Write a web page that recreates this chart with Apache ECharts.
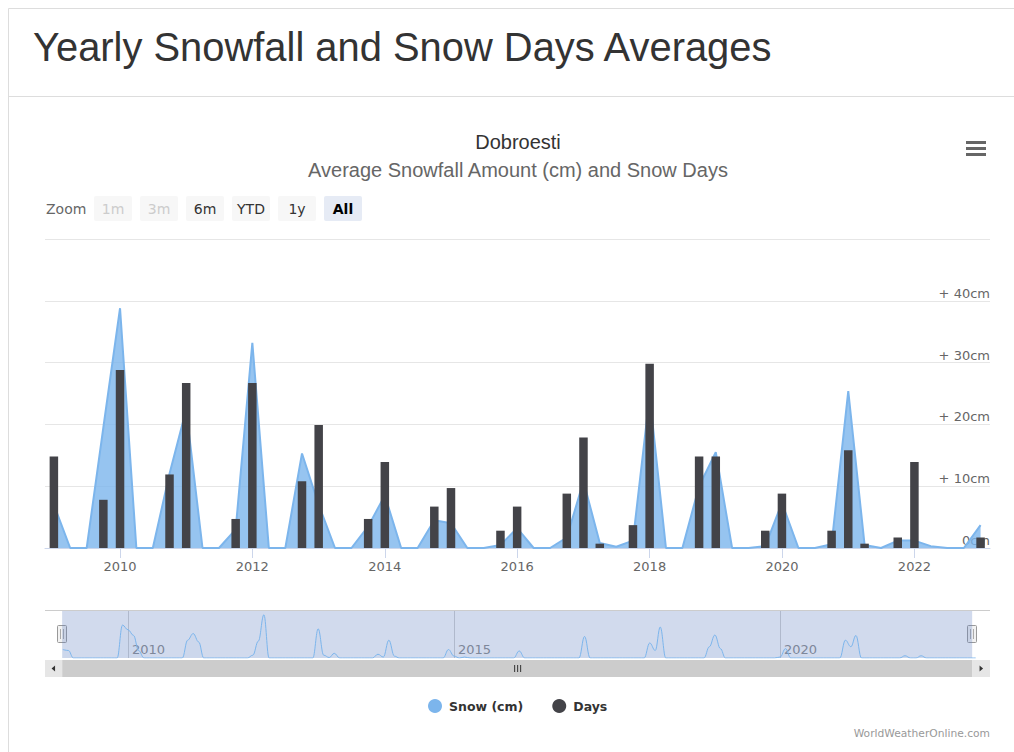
<!DOCTYPE html>
<html>
<head>
<meta charset="utf-8">
<title>Yearly Snowfall and Snow Days Averages</title>
<script src="https://cdn.jsdelivr.net/npm/echarts@6/dist/echarts.min.js"></script>
<style>
  html, body { margin: 0; padding: 0; background: #fff; }
  #chart { width: 1014px; height: 752px; }
</style>
</head>
<body>
<div id="chart"></div>
<script>
// quarterly values, first point is Jan 2009 (Q1), last is Jan 2023
const startYear = 2009;
const snowCm = [
  7, 0, 0, 19.5,      // 2009
  38.8, 0, 0, 12,     // 2010
  22.4, 0, 0, 3,      // 2011
  33.2, 0, 0, 15.3,   // 2012
  7, 0, 0, 3.5,       // 2013
  8.5, 0, 0, 4.5,     // 2014
  4, 0, 0, 0.5,       // 2015
  3.2, 0, 0, 1.7,     // 2016
  10.8, 0.8, 0.2, 1.2, // 2017
  24.6, 0, 0, 10,     // 2018
  15.5, 0, 0, 0.3,    // 2019
  7.3, 0, 0, 0.6,     // 2020
  25.4, 0.5, 0, 1.2,  // 2021
  1.2, 0.3, 0, 0,     // 2022
  3.7                 // 2023
];
const snowDays = [
  14.8, 0, 0, 7.8,
  28.8, 0, 0, 11.9,
  26.7, 0, 0, 4.7,
  26.7, 0, 0, 10.8,
  19.9, 0, 0, 4.7,
  13.9, 0, 0, 6.7,
  9.7, 0, 0, 2.8,
  6.7, 0, 0, 8.8,
  17.9, 0.7, 0, 3.7,
  29.8, 0, 0, 14.8,
  14.8, 0, 0, 2.8,
  8.8, 0, 0, 2.8,
  15.8, 0.7, 0, 1.7,
  13.9, 0, 0, 0,
  1.7
];
// monthly snow for the navigator strip, one row per year from 2009
const navSnow = [
  [9, 8, 0, 0, 0, 0, 0, 0, 0, 0, 0, 35],
  [30, 24, 8, 0, 0, 0, 0, 0, 0, 0, 0, 19],
  [26, 17, 0, 0, 0, 0, 0, 0, 0, 0, 0, 3],
  [18, 46, 0, 0, 0, 0, 0, 0, 0, 0, 0, 31],
  [3, 0.5, 5, 0, 0, 0, 0, 0, 0, 0, 4, 1],
  [19, 2, 0, 0, 0, 0, 0, 0, 0, 0, 0, 9],
  [2, 0, 1, 0, 0, 0, 0, 0, 0, 0, 0, 0],
  [7.5, 0, 0, 0, 0, 0, 0, 0, 0, 0, 0, 0],
  [23, 0, 0, 0, 0, 0, 0, 0, 0, 0, 0, 0],
  [16, 8, 33, 0, 0, 0, 0, 0, 0, 0, 0, 12],
  [24.5, 10, 0, 0, 0, 0, 0, 0, 0, 0, 0, 0],
  [1, 10, 0, 0, 0, 0, 0, 0, 0, 0, 0, 0],
  [19, 12, 24, 0, 0, 0, 0, 0, 0, 0, 0, 2.4],
  [0, 0, 2.4, 0, 0, 0, 0, 0, 0, 0, 0, 0],
  [0]
];
const mainTickYears = [2010, 2012, 2014, 2016, 2018, 2020, 2022];
const navTickYears = [2010, 2015, 2020];
const rangeButtons = ['1m', '3m', '6m', 'YTD', '1y', 'All'];

const jan = y => new Date(y, 0, 1).getTime();
const quarterTime = i => new Date(startYear + Math.floor(i / 4), (i % 4) * 3, 1).getTime();
const yearOf = v => String(new Date(v + 86400000).getFullYear());

const snowData = snowCm.map((v, i) => [quarterTime(i), v]);
const daysData = snowDays.map((v, i) => [quarterTime(i), v]);
const navData = [];
navSnow.forEach((row, r) => row.forEach((v, m) => navData.push([new Date(startYear + r, m, 1).getTime(), v])));

const font = 'DejaVu Sans';
const chart = echarts.init(document.getElementById('chart'), null, { renderer: 'svg' });

const graphics = [
  { type: 'line', shape: { x1: 8.5, y1: 8.5, x2: 1014, y2: 8.5 }, style: { stroke: '#dddddd', lineWidth: 1 } },
  { type: 'line', shape: { x1: 8.5, y1: 8.5, x2: 8.5, y2: 752 }, style: { stroke: '#dddddd', lineWidth: 1 } },
  { type: 'line', shape: { x1: 8.5, y1: 96.5, x2: 1014, y2: 96.5 }, style: { stroke: '#dddddd', lineWidth: 1 } },
  { type: 'text', x: 33, y: 47, style: { text: 'Yearly Snowfall and Snow Days Averages', fontFamily: 'Liberation Sans', fontSize: 39.9, fill: '#333', verticalAlign: 'middle' } },
  { type: 'text', x: 518, y: 142, style: { text: 'Dobroesti', fontFamily: 'Liberation Sans', fontSize: 20, fill: '#333', align: 'center', verticalAlign: 'middle' } },
  { type: 'text', x: 518, y: 170, style: { text: 'Average Snowfall Amount (cm) and Snow Days', fontFamily: 'Liberation Sans', fontSize: 20, fill: '#666', align: 'center', verticalAlign: 'middle' } },
  { type: 'text', x: 46, y: 209, style: { text: 'Zoom', fontFamily: font, fontSize: 14, fill: '#666', verticalAlign: 'middle' } },
  { type: 'rect', shape: { x: 966, y: 141, width: 20, height: 3 }, style: { fill: '#666' } },
  { type: 'rect', shape: { x: 966, y: 147, width: 20, height: 3 }, style: { fill: '#666' } },
  { type: 'rect', shape: { x: 966, y: 153, width: 20, height: 3 }, style: { fill: '#666' } },
  { type: 'text', x: 990, y: 733, style: { text: 'WorldWeatherOnline.com', fontFamily: font, fontSize: 10.7, fill: '#999', align: 'right', verticalAlign: 'middle' } },
  { type: 'line', shape: { x1: 45, y1: 610.5, x2: 990, y2: 610.5 }, style: { stroke: '#cccccc', lineWidth: 1 } }
];

rangeButtons.forEach((label, i) => {
  const x = 94 + i * 46;
  const disabled = i < 2;
  const active = label === 'All';
  graphics.push({ type: 'rect', shape: { x: x, y: 196, width: 38, height: 25, r: 2 }, style: { fill: active ? '#e6ebf5' : '#f7f7f7' } });
  graphics.push({ type: 'text', x: x + 19, y: 209, style: {
    text: label, fontFamily: font, fontSize: 14, fontWeight: active ? 'bold' : 'normal',
    fill: disabled ? '#cccccc' : (active ? '#000' : '#333'),
    align: 'center', verticalAlign: 'middle'
  } });
});

const navStart = new Date(2008, 11, 28).getTime();
const navEnd = new Date(2022, 11, 12).getTime();

const option = {
  animation: false,
  color: ['#7cb5ec', '#434348'],
  grid: [
    { left: 45, right: 24, top: 239, height: 309 },
    { left: 45, right: 24, top: 611, height: 47 }
  ],
  legend: {
    data: ['Snow (cm)', 'Days'],
    left: 423,
    top: 694,
    icon: 'circle',
    itemWidth: 18,
    itemHeight: 14,
    itemGap: 29,
    textStyle: { fontFamily: font, fontSize: 12.5, fontWeight: 'bold', color: '#333' }
  },
  xAxis: [
    {
      type: 'value', gridIndex: 0,
      min: new Date(2008, 10, 13).getTime(), max: new Date(2023, 1, 22).getTime(),
      axisLine: { show: true, lineStyle: { color: '#ccd6eb' } },
      axisTick: { show: true, length: 10, lineStyle: { color: '#ccd6eb' }, customValues: mainTickYears.map(jan) },
      axisLabel: {
        customValues: mainTickYears.map(jan), margin: 12,
        formatter: yearOf,
        fontFamily: font, fontSize: 13, color: '#666'
      },
      splitLine: { show: false }
    },
    {
      type: 'value', gridIndex: 1,
      min: new Date(2008, 8, 23).getTime(), max: new Date(2023, 2, 22).getTime(),
      axisLine: { show: false },
      axisTick: { show: false, customValues: navTickYears.map(jan) },
      axisLabel: {
        customValues: navTickYears.map(jan), inside: true, margin: 2,
        align: 'left', padding: [0, 0, 0, 4], verticalAlign: 'bottom',
        formatter: yearOf,
        fontFamily: font, fontSize: 13, color: '#888'
      },
      splitLine: { show: true, lineStyle: { color: '#d0d0d0' } }
    }
  ],
  yAxis: [
    {
      type: 'value', gridIndex: 0, position: 'right',
      min: 0, max: 50, interval: 10,
      axisLine: { show: false }, axisTick: { show: false },
      splitLine: { lineStyle: { color: '#e6e6e6' } },
      axisLabel: {
        inside: true, margin: 0, verticalAlign: 'bottom', padding: [0, 0, 1, 0],
        fontFamily: font, fontSize: 13, color: '#666',
        formatter: v => v === 0 ? '0cm' : (v === 50 ? '' : '+ ' + v + 'cm')
      }
    },
    {
      type: 'value', gridIndex: 1, min: 0, max: 50,
      axisLine: { show: false }, axisTick: { show: false },
      axisLabel: { show: false }, splitLine: { show: false }
    }
  ],
  series: [
    {
      name: 'Snow (cm)', type: 'line', xAxisIndex: 0, yAxisIndex: 0,
      data: snowData, showSymbol: false, z: 2,
      lineStyle: { color: '#7cb5ec', width: 2 },
      itemStyle: { color: '#7cb5ec' },
      areaStyle: { color: '#7cb5ec', opacity: 0.8 }
    },
    {
      name: 'Days', type: 'bar', xAxisIndex: 0, yAxisIndex: 0,
      data: daysData, barWidth: 8.5, z: 3,
      itemStyle: { color: '#434348' }
    },
    {
      name: 'navigator', type: 'line', xAxisIndex: 1, yAxisIndex: 1,
      data: navData, showSymbol: false, smooth: 0.4, smoothMonotone: 'x',
      lineStyle: { color: '#7cb5ec', width: 1 },
      areaStyle: { color: '#7cb5ec', opacity: 0.05 },
      markArea: {
        silent: true,
        itemStyle: { color: 'rgba(102,133,194,0.3)' },
        data: [[{ xAxis: navStart }, { xAxis: navEnd }]]
      }
    }
  ],
  graphic: graphics
};

chart.setOption(option);

// navigator handles and scrollbar follow the navigator axis
const hx1 = chart.convertToPixel({ xAxisIndex: 1 }, navStart);
const hx2 = chart.convertToPixel({ xAxisIndex: 1 }, navEnd);
const extra = [
  { type: 'rect', shape: { x: 45, y: 660, width: 945, height: 17 }, style: { fill: '#f2f2f2' } },
  { type: 'rect', shape: { x: hx1, y: 660, width: hx2 - hx1, height: 17 }, style: { fill: '#cccccc' } },
  { type: 'rect', shape: { x: 45, y: 660, width: hx1 - 45, height: 17 }, style: { fill: '#e6e6e6' } },
  { type: 'rect', shape: { x: hx2, y: 660, width: 990 - hx2, height: 17 }, style: { fill: '#e6e6e6' } },
  { type: 'polygon', shape: { points: [[(45 + hx1) / 2 - 2, 668.5], [(45 + hx1) / 2 + 1.5, 665.5], [(45 + hx1) / 2 + 1.5, 671.5]] }, style: { fill: '#333' } },
  { type: 'polygon', shape: { points: [[(hx2 + 990) / 2 + 2, 668.5], [(hx2 + 990) / 2 - 1.5, 665.5], [(hx2 + 990) / 2 - 1.5, 671.5]] }, style: { fill: '#333' } }
];
const mid = (hx1 + hx2) / 2;
[-3, 0, 3].forEach(d => extra.push({ type: 'line', shape: { x1: mid + d + 0.5, y1: 665, x2: mid + d + 0.5, y2: 672 }, style: { stroke: '#333', lineWidth: 1 } }));
[hx1, hx2].forEach(x => {
  const cx = Math.round(x);
  extra.push({ type: 'rect', shape: { x: cx - 4.5, y: 625.5, width: 9, height: 17, r: 1 }, style: { fill: '#f2f2f2', stroke: '#999999', lineWidth: 1 } });
  extra.push({ type: 'line', shape: { x1: cx - 1.5, y1: 629, x2: cx - 1.5, y2: 639 }, style: { stroke: '#aaaaaa', lineWidth: 1 } });
  extra.push({ type: 'line', shape: { x1: cx + 1.5, y1: 629, x2: cx + 1.5, y2: 639 }, style: { stroke: '#aaaaaa', lineWidth: 1 } });
});
chart.setOption({ graphic: graphics.concat(extra) });
</script>
</body>
</html>
